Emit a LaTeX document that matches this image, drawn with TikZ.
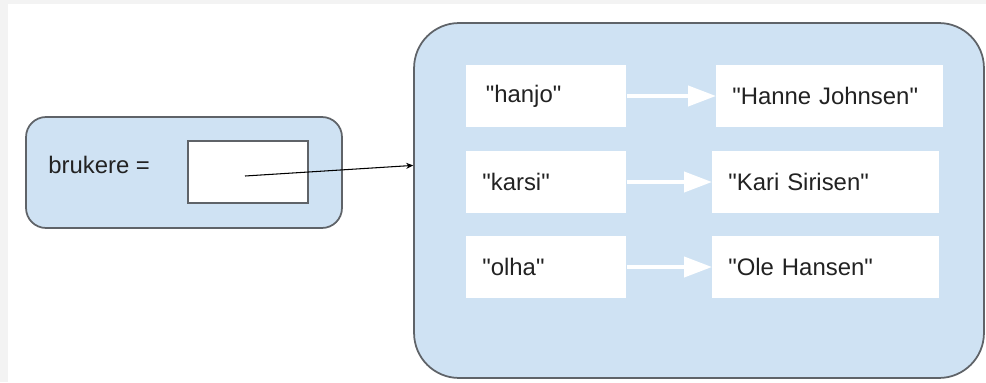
\documentclass[tikz,border=0pt]{standalone}
\usepackage{fontspec}
\setmainfont{Liberation Sans}
\usetikzlibrary{arrows.meta}
\definecolor{boxblue}{HTML}{CFE2F3}
\definecolor{boxline}{HTML}{5F6368}
\definecolor{pagegray}{HTML}{F3F3F3}
\definecolor{textgray}{HTML}{222222}
\newcommand{\qstr}[1]{\textquotedbl#1\textquotedbl}
\tikzset{
  roundbox/.style={draw=boxline,line width=1pt,fill=boxblue},
  keybox/.style={fill=white,anchor=west,minimum height=1.24cm,text width=2.56cm,inner xsep=0.32cm,align=left},
  valbox/.style={fill=white,anchor=west,minimum height=1.24cm,text width=3.9cm,inner xsep=0.32cm,align=left},
  maparrow/.style={white,line width=2.3pt,-{Triangle[length=0.56cm,width=0.4cm]}},
  pointer/.style={black,line width=0.6pt,-{Stealth[length=4pt,width=3.5pt]}}
}

\begin{document}
\begin{tikzpicture}[x=0.02cm,y=-0.02cm,font=\fontsize{13.6}{16}\selectfont,text=textgray]
    \useasboundingbox (0,0) rectangle (986,382);
    \fill[pagegray] (0,0) rectangle (986,382);
    \fill[white] (8,4) rectangle (986,382);
    % variabel
    \node[roundbox,rounded corners=0.4cm,minimum width=6.32cm,minimum height=2.22cm] (var) at (184,172.5) {};
    \node[anchor=west,inner sep=0pt] (varname) at (48,165) {brukere =};
    \node[draw=boxline,line width=0.8pt,fill=white,minimum width=2.4cm,minimum height=1.24cm] (cell) at (248,172) {};
    \coordinate (ptr) at (245,176);
    % ordbok
    \node[roundbox,rounded corners=0.9cm,minimum width=11.4cm,minimum height=7.1cm] (dict) at (699,200.5) {};
    \node[keybox] (k1) at (466,96) {\hspace{2pt}\qstr{hanjo}};
    \node[keybox] (k2) at (466,182) {\qstr{karsi}};
    \node[keybox] (k3) at (466,267) {\qstr{olha}};
    \node[valbox] (v1) at (716,96) {\qstr{Hanne Johnsen}};
    \node[valbox] (v2) at (712,182) {\qstr{Kari Sirisen}};
    \node[valbox] (v3) at (712,267) {\qstr{Ole Hansen}};
    \draw[maparrow] (k1) -- (v1);
    \draw[maparrow] (k2) -- (v2);
    \draw[maparrow] (k3) -- (v3);
    \draw[pointer] (ptr) -- (dict.173.8);
  \end{tikzpicture}
\end{document}
